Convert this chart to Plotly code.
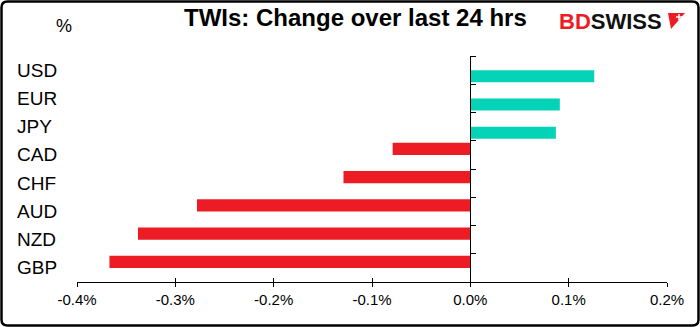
import plotly.graph_objects as go

# ---- data ----
currencies = ["USD", "EUR", "JPY", "CAD", "CHF", "AUD", "NZD", "GBP"]
change_pct = [0.126, 0.091, 0.087, -0.079, -0.129, -0.278, -0.338, -0.367]
x_tickvals = [-0.4, -0.3, -0.2, -0.1, 0.0, 0.1, 0.2]
x_ticktext = ["-0.4%", "-0.3%", "-0.2%", "-0.1%", "0.0%", "0.1%", "0.2%"]

neg_vals = [v if v < 0 else None for v in change_pct]
pos_vals = [v if v >= 0 else None for v in change_pct]

W, H = 700, 327
ML, MR, MT, MB = 77, 33, 56, 45
PW, PH = W - ML - MR, H - MT - MB


def px(x):
    return (x - ML) / PW


def py(y):
    return (H - MB - y) / PH


fig = go.Figure()
fig.add_trace(go.Bar(y=currencies, x=neg_vals, orientation="h",
                     marker=dict(color="#ED1C24", line=dict(width=0)),
                     hoverinfo="x+y", name="neg"))
fig.add_trace(go.Bar(y=currencies, x=pos_vals, orientation="h",
                     marker=dict(color="#04D3B7", line=dict(width=0)),
                     hoverinfo="x+y", name="pos"))
# helper trace so the overlay x-axis (inside ticks) is drawn
fig.add_trace(go.Scatter(x=[0], y=[currencies[0]], xaxis="x2", mode="markers",
                         marker=dict(opacity=0), hoverinfo="skip", showlegend=False))

font_main = "Liberation Sans, Arial, sans-serif"

annotations = []
for c in currencies:
    annotations.append(dict(xref="paper", yref="y", x=px(15), y=c, text=c,
                            xanchor="left", yanchor="middle", showarrow=False,
                            font=dict(size=19, color="black", family=font_main)))
annotations.append(dict(xref="paper", yref="paper", x=px(64), y=py(26), text="%",
                        xanchor="center", yanchor="middle", showarrow=False,
                        font=dict(size=18, color="black", family=font_main)))
annotations.append(dict(xref="paper", yref="paper", x=px(355), y=py(18),
                        text="<b>TWIs: Change over last 24 hrs</b>",
                        xanchor="center", yanchor="middle", showarrow=False,
                        font=dict(size=24, color="black", family=font_main)))
annotations.append(dict(xref="paper", yref="paper", x=px(610), y=py(21),
                        text="<b><span style='color:#ED1C24'>BD</span>SWISS</b>",
                        xanchor="center", yanchor="middle", showarrow=False,
                        font=dict(size=22, color="#111111", family=font_main)))

shapes = [
    # logo flag
    dict(type="path", xref="paper", yref="paper",
         path=f"M{px(668)},{py(13)} L{px(685)},{py(13)} L{px(671)},{py(29)} Z",
         fillcolor="#ED1C24", line=dict(width=0)),
    dict(type="line", xref="paper", yref="paper", x0=px(676), x1=px(682),
         y0=py(17), y1=py(17), line=dict(color="white", width=1.5)),
    dict(type="line", xref="paper", yref="paper", x0=px(679), x1=px(679),
         y0=py(14), y1=py(20), line=dict(color="white", width=1.5)),
]
# rounded border
r = 6
x0, x1, y0, y1 = 1.5, W - 1.5, 1.5, H - 1.5
path = (f"M{px(x0 + r)},{py(y0)} L{px(x1 - r)},{py(y0)} Q{px(x1)},{py(y0)} {px(x1)},{py(y0 + r)} "
        f"L{px(x1)},{py(y1 - r)} Q{px(x1)},{py(y1)} {px(x1 - r)},{py(y1)} "
        f"L{px(x0 + r)},{py(y1)} Q{px(x0)},{py(y1)} {px(x0)},{py(y1 - r)} "
        f"L{px(x0)},{py(y0 + r)} Q{px(x0)},{py(y0)} {px(x0 + r)},{py(y0)} Z")
shapes.append(dict(type="path", xref="paper", yref="paper", path=path,
                   line=dict(color="black", width=2.5), fillcolor="rgba(0,0,0,0)"))

zero_pos = (0 - x_tickvals[0]) / (x_tickvals[-1] - x_tickvals[0])

fig.update_layout(
    width=W, height=H, autosize=False,
    margin=dict(l=ML, r=MR, t=MT, b=MB, pad=0),
    paper_bgcolor="white", plot_bgcolor="white",
    barmode="group", bargap=0.15, bargroupgap=0,
    showlegend=False,
    font=dict(family=font_main, color="black"),
    xaxis=dict(range=[x_tickvals[0], x_tickvals[-1]], tickmode="array",
               tickvals=x_tickvals, ticktext=x_ticktext,
               showgrid=False, zeroline=False, showline=True,
               linecolor="black", linewidth=1, ticks="outside", ticklen=4,
               tickcolor="black", tickwidth=1,
               tickfont=dict(size=15, color="black", family=font_main),
               fixedrange=True),
    xaxis2=dict(overlaying="x", matches="x", anchor="y", side="bottom",
                range=[x_tickvals[0], x_tickvals[-1]], tickmode="array",
                tickvals=x_tickvals, showticklabels=False, showgrid=False,
                zeroline=False, showline=False, ticks="inside", ticklen=4,
                tickcolor="black", tickwidth=1),
    yaxis=dict(type="category", categoryorder="array", categoryarray=currencies,
               range=[len(currencies) - 0.5, -0.5],
               anchor="free", position=zero_pos, side="right",
               showticklabels=False, showgrid=False, zeroline=False,
               showline=True, linecolor="black", linewidth=1,
               ticks="outside", tickson="boundaries", ticklen=5,
               tickcolor="black", tickwidth=1, fixedrange=True),
    annotations=annotations,
    shapes=shapes,
)

fig.write_html("out.html")
